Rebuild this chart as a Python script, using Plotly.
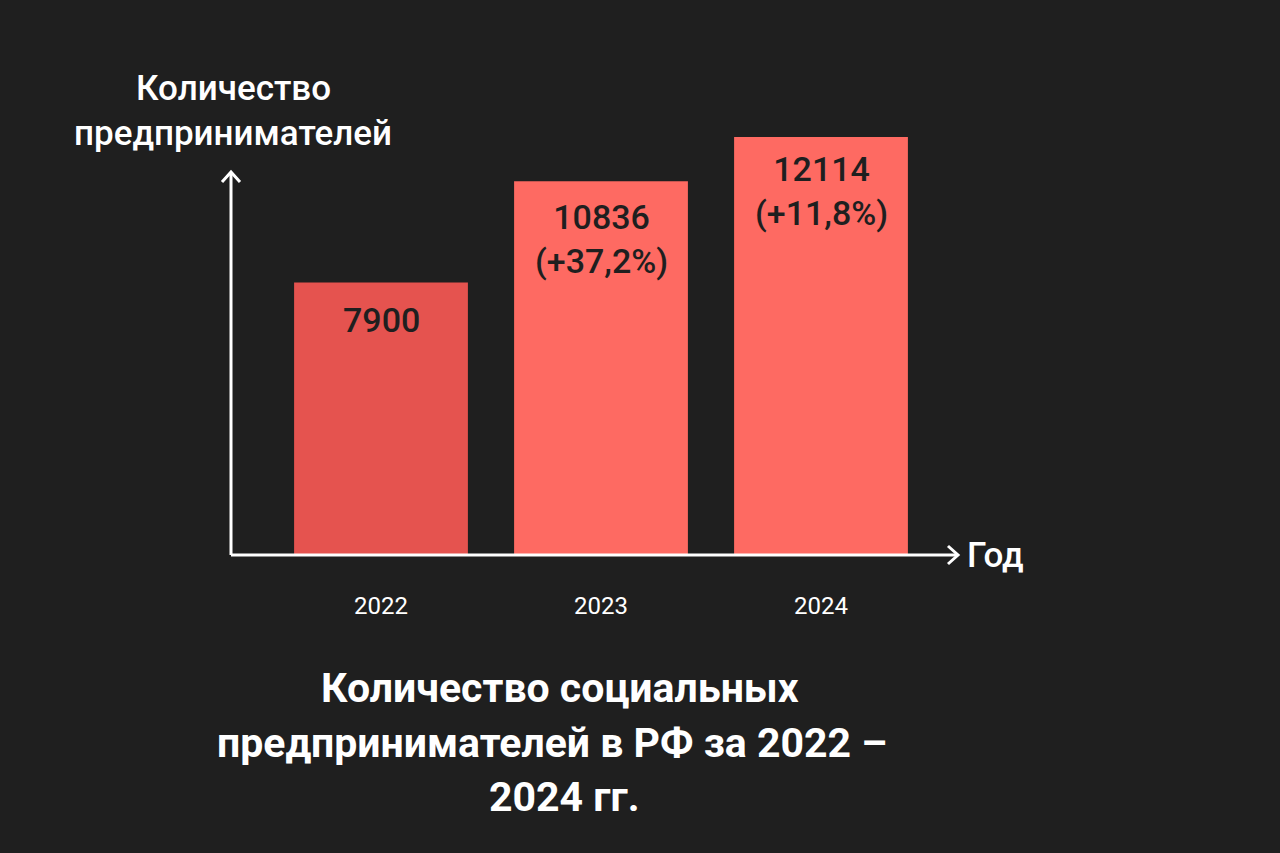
import plotly.graph_objects as go

years = ["2022", "2023", "2024"]
values = [7900, 10836, 12114]
bar_colors = ["#E5534F", "#FE6A62", "#FE6A62"]
y_label_lines = ["Количество", "предпринимателей"]
x_label = "Год"
title_lines = ["Количество социальных", "предпринимателей в РФ за 2022 –", "2024 гг."]

BG = "#1F1F1F"
FONT = "Roboto"

# plot-area geometry (pixels)
L, R, T, B = 231, 958, 120, 555
W, H = R - L, B - T


def px(x):
    return (x - L) / W


def py(y):
    return (B - y) / H


labels = []
for i, v in enumerate(values):
    if i == 0:
        labels.append(f"{v}")
    else:
        pct = (v / values[i - 1] - 1) * 100
        labels.append(f"{v}<br>(+{pct:.1f}%)".replace(".", ","))

fig = go.Figure()
fig.add_trace(go.Bar(
    x=years, y=values,
    marker=dict(color=bar_colors, line=dict(width=0)),
    hoverinfo="skip",
))

annotations = []
for i, (v, lab) in enumerate(zip(values, labels)):
    annotations.append(dict(
        x=i, y=v, xref="x", yref="y", text=lab, showarrow=False,
        xanchor="center", yanchor="top", yshift=[-16, -14, -10][i],
        font=dict(family=FONT, size=34, color="#1F1F1F", weight=500),
    ))

for txt, yc in zip(y_label_lines, [89, 133]):
    annotations.append(dict(
        x=px(233), y=py(yc), xref="paper", yref="paper", text=txt,
        showarrow=False, xanchor="center", yanchor="middle",
        font=dict(family=FONT, size=35, color="white", weight=500),
    ))

annotations.append(dict(
    x=px(965), y=0, xref="paper", yref="paper", text=x_label,
    showarrow=False, xanchor="left", yanchor="middle",
    font=dict(family=FONT, size=35, color="white", weight=500),
))

for txt, xc, yc in zip(title_lines, [560, 552, 564], [688, 743, 797]):
    annotations.append(dict(
        x=px(xc), y=py(yc), xref="paper", yref="paper", text=f"<b>{txt}</b>",
        showarrow=False, xanchor="center", yanchor="middle",
        font=dict(family=FONT, size=41, color="white"),
    ))

line = dict(color="white", width=3)
shapes = [
    dict(type="line", xref="paper", yref="paper", x0=0, y0=0, x1=0, y1=py(173), line=line, layer="above"),
    dict(type="line", xref="paper", yref="paper", x0=0, y0=0, x1=px(957), y1=0, line=line, layer="above"),
    dict(type="path", xref="paper", yref="paper",
         path=f"M {px(222)},{py(182)} L {px(231)},{py(172)} L {px(240)},{py(182)}", line=line, layer="above"),
    dict(type="path", xref="paper", yref="paper",
         path=f"M {px(948)},{py(546)} L {px(958)},{py(555)} L {px(948)},{py(564)}", line=line, layer="above"),
]

fig.update_layout(
    width=1280, height=853,
    paper_bgcolor=BG, plot_bgcolor=BG,
    margin=dict(l=L, r=1280 - R, t=T, b=853 - B, pad=0),
    bargap=0.21,
    showlegend=False,
    annotations=annotations,
    shapes=shapes,
    xaxis=dict(
        type="category",
        range=[-150 / 220, (R - 381) / 220],
        showgrid=False, zeroline=False, showline=False,
        ticks="outside", ticklen=29, tickcolor=BG,
        tickfont=dict(family=FONT, size=24, color="white"),
        fixedrange=True,
    ),
    yaxis=dict(
        range=[0, H / 0.0345],
        showgrid=False, zeroline=False, showline=False,
        showticklabels=False, ticks="",
        fixedrange=True,
    ),
)

fig.write_html(
    "out.html",
    config={"displayModeBar": False},
    post_script="document.body.style.margin='0';document.body.style.background='#1F1F1F';",
)
